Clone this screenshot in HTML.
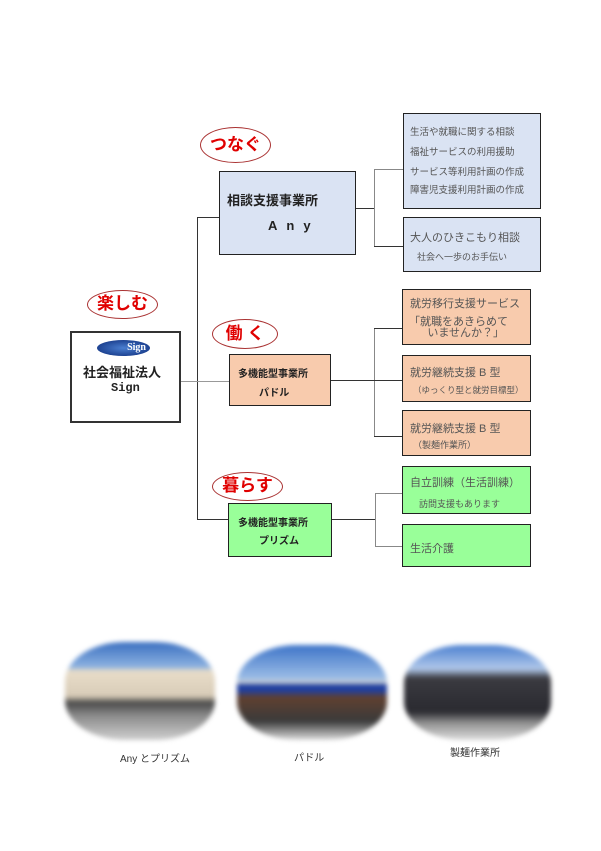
<!DOCTYPE html>
<html><head><meta charset="utf-8"><style>
body{margin:0;width:601px;height:851px;background:#fff;position:relative;overflow:hidden;font-family:"Liberation Sans","Noto Sans CJK JP",sans-serif}
.a{position:absolute}
.box{position:absolute;box-sizing:border-box;border:1.5px solid #222}
.bl{background:#dae3f3}.or{background:#f8cbad}.gr{background:#99ff99}
.h{position:absolute;background:#333;height:1px}
.v{position:absolute;background:#333;width:1px}
.ov{position:absolute;box-sizing:border-box;border:1.5px solid #a33;border-radius:50%;color:#e00000;font-weight:bold;text-align:center;background:#fff}
.t{position:absolute;font-size:9.5px;color:#555;white-space:nowrap}
.b{font-weight:bold;color:#222}
.ph{position:absolute;filter:blur(2.5px);border-radius:40%}
.cap{position:absolute;font-size:10px;color:#333;white-space:nowrap}
</style></head><body>
<div class="v" style="left:197px;top:217px;height:303px"></div>
<div class="h" style="left:197px;top:217px;width:23px"></div>
<div class="h" style="left:180px;top:381px;width:50px;background:#999"></div>
<div class="h" style="left:197px;top:519px;width:32px"></div>
<div class="h" style="left:355px;top:208px;width:19px"></div>
<div class="v" style="left:374px;top:169px;height:78px;background:#888"></div>
<div class="h" style="left:374px;top:169px;width:29px;background:#888"></div>
<div class="h" style="left:374px;top:246px;width:29px"></div>
<div class="h" style="left:330px;top:380px;width:45px"></div>
<div class="v" style="left:374px;top:328px;height:109px;background:#888"></div>
<div class="h" style="left:374px;top:328px;width:28px"></div>
<div class="h" style="left:374px;top:380px;width:28px"></div>
<div class="h" style="left:374px;top:436px;width:28px"></div>
<div class="h" style="left:331px;top:519px;width:44px"></div>
<div class="v" style="left:375px;top:493px;height:54px;background:#888"></div>
<div class="h" style="left:375px;top:493px;width:27px;background:#888"></div>
<div class="h" style="left:375px;top:546px;width:27px;background:#888"></div>

<div class="box" style="left:70px;top:331px;width:111px;height:92px;background:#fff;border:2px solid #333"></div>
<div class="a" style="left:97px;top:340px;width:53px;height:16px;border-radius:50%;background:radial-gradient(ellipse,#4a7ed0,#0b2a78);color:#fff;font:bold 10px 'Liberation Serif',serif;text-align:right;padding-right:4px;box-sizing:border-box;line-height:16px">Sign</div>
<div class="t b" style="left:83px;top:362px;font-size:13px">社会福祉法人</div>
<div class="t b" style="left:111px;top:381px;font-size:12px;font-family:'Liberation Mono',monospace">Sign</div>
<div class="ov" style="left:87px;top:290px;width:71px;height:29px;font-size:17px;line-height:26px">楽しむ</div>

<div class="ov" style="left:200px;top:127px;width:71px;height:36px;font-size:17px;line-height:33px">つなぐ</div>
<div class="box bl" style="left:219px;top:171px;width:137px;height:84px"></div>
<div class="t b" style="left:227px;top:190px;font-size:13px">相談支援事業所</div>
<div class="t b" style="left:268px;top:218px;font-size:13px;letter-spacing:9px">Any</div>
<div class="box bl" style="left:403px;top:113px;width:138px;height:96px;border-width:1px"></div>
<div class="t" style="left:410px;top:124px">生活や就職に関する相談</div>
<div class="t" style="left:410px;top:144px">福祉サービスの利用援助</div>
<div class="t" style="left:410px;top:164px">サービス等利用計画の作成</div>
<div class="t" style="left:410px;top:182px">障害児支援利用計画の作成</div>
<div class="box bl" style="left:403px;top:217px;width:138px;height:55px;border-width:1px"></div>
<div class="t" style="left:410px;top:229px;font-size:11px">大人のひきこもり相談</div>
<div class="t" style="left:417px;top:250px;font-size:9px">社会へ一歩のお手伝い</div>

<div class="ov" style="left:212px;top:319px;width:66px;height:30px;font-size:17px;line-height:27px">働 く</div>
<div class="box or" style="left:229px;top:354px;width:102px;height:52px"></div>
<div class="t b" style="left:238px;top:365px;font-size:10px">多機能型事業所</div>
<div class="t b" style="left:259px;top:384px;font-size:10px">パドル</div>
<div class="box or" style="left:402px;top:289px;width:129px;height:56px;border-width:1px"></div>
<div class="t" style="left:410px;top:295px;font-size:11px">就労移行支援サービス</div>
<div class="t" style="left:409px;top:317px;font-size:11px;line-height:11px">「就職をあきらめて<br>&nbsp;&nbsp;&nbsp;&nbsp;&nbsp;&nbsp;いませんか？」</div>
<div class="box or" style="left:402px;top:355px;width:129px;height:47px;border-width:1px"></div>
<div class="t" style="left:410px;top:364px;font-size:11px">就労継続支援 B 型</div>
<div class="t" style="left:413px;top:384px;font-size:8.5px">（ゆっくり型と就労目標型）</div>
<div class="box or" style="left:402px;top:410px;width:129px;height:46px;border-width:1px"></div>
<div class="t" style="left:410px;top:420px;font-size:11px">就労継続支援 B 型</div>
<div class="t" style="left:413px;top:438px;font-size:9px">（製麺作業所）</div>

<div class="ov" style="left:212px;top:472px;width:71px;height:29px;font-size:17px;line-height:26px">暮らす</div>
<div class="box gr" style="left:228px;top:503px;width:104px;height:54px"></div>
<div class="t b" style="left:238px;top:514px;font-size:10px">多機能型事業所</div>
<div class="t b" style="left:259px;top:532px;font-size:10px">プリズム</div>
<div class="box gr" style="left:402px;top:466px;width:129px;height:48px;border-width:1px"></div>
<div class="t" style="left:410px;top:474px;font-size:11px">自立訓練（生活訓練）</div>
<div class="t" style="left:419px;top:497px;font-size:9px">訪問支援もあります</div>
<div class="box gr" style="left:402px;top:524px;width:129px;height:43px;border-width:1px"></div>
<div class="t" style="left:410px;top:540px;font-size:11px">生活介護</div>

<div class="ph" style="left:65px;top:642px;width:150px;height:98px;background:linear-gradient(#3a6fc0 0%,#8ab0e0 25%,#e8dcc8 30%,#d8ccb8 55%,#4a4a4a 62%,#8a8a8a 75%,#cfcfcf 100%)"></div>
<div class="ph" style="left:237px;top:645px;width:150px;height:95px;background:linear-gradient(#3d74c8 0%,#9bbce6 35%,#d0d0d0 40%,#2040a0 42%,#2040a0 48%,#604030 55%,#3a3a3a 80%,#ddd 100%)"></div>
<div class="ph" style="left:404px;top:645px;width:147px;height:95px;background:linear-gradient(#4c80d0 0%,#b0c8ea 25%,#3a3a40 35%,#2a2a30 70%,#909090 82%,#ddd 100%)"></div>
<div class="cap" style="left:120px;top:750px">Any とプリズム</div>
<div class="cap" style="left:294px;top:749px">パドル</div>
<div class="cap" style="left:450px;top:744px">製麺作業所</div>
</body></html>
